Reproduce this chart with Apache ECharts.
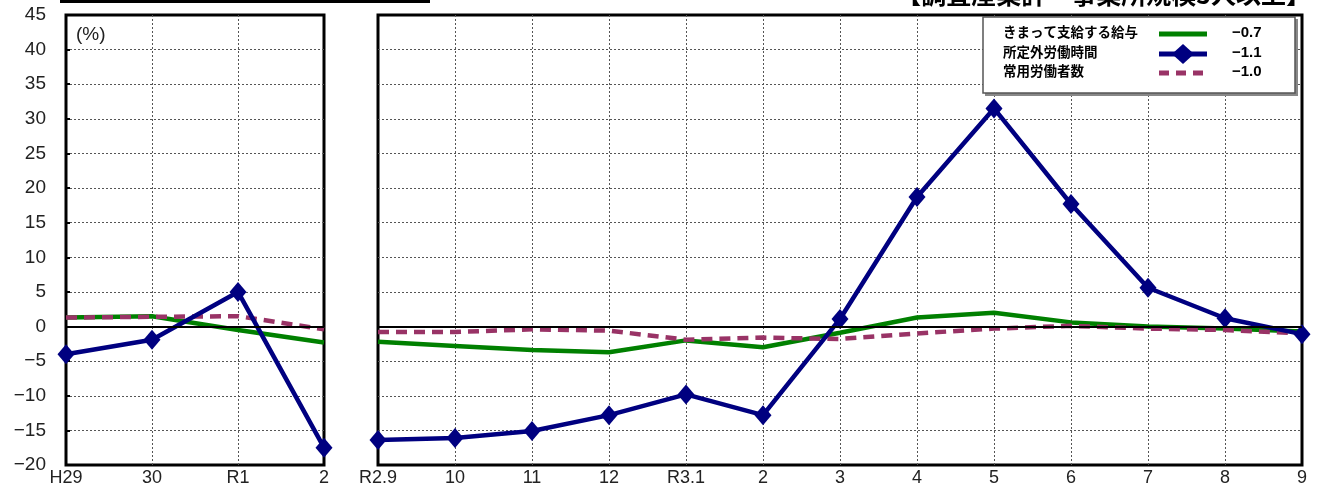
<!DOCTYPE html>
<html><head><meta charset="utf-8">
<script src="https://cdn.jsdelivr.net/npm/echarts@6/dist/echarts.min.js"></script>
<style>html,body{margin:0;padding:0;background:#fff}#c{width:1317px;height:490px}</style>
</head><body><div id="c"></div>
<script>
// ---- data ----
const yearCats = ['H29', '30', 'R1', '2'];
const monthCats = ['R2.9', '10', '11', '12', 'R3.1', '2', '3', '4', '5', '6', '7', '8', '9'];
const seriesNames = ['きまって支給する給与', '所定外労働時間', '常用労働者数'];
const latestValues = ['−0.7', '−1.1', '−1.0'];
const wageYear = [1.3, 1.5, -0.5, -2.3];
const overtimeYear = [-4.0, -1.9, 5.0, -17.5];
const employYear = [1.3, 1.4, 1.5, -0.4];
const wageMonth = [-2.2, -2.8, -3.4, -3.7, -2.0, -3.0, -0.9, 1.3, 2.0, 0.6, 0.0, -0.3, -0.7];
const overtimeMonth = [-16.4, -16.1, -15.1, -12.8, -9.8, -12.8, 1.1, 18.7, 31.5, 17.7, 5.6, 1.2, -1.1];
const employMonth = [-0.8, -0.8, -0.4, -0.6, -1.9, -1.6, -1.8, -1.0, -0.3, 0.1, -0.3, -0.5, -1.0];
const yTicks = { min: -20, max: 45, step: 5 };
const titleText = '【調査産業計・事業所規模5人以上】';
const unitText = '(%)';

// ---- styles ----
const GREEN = '#008000', NAVY = '#000080', MAG = '#993366';
const NUMFONT = 'Liberation Sans';
const JPFONT = 'Noto Sans CJK JP';

const chart = echarts.init(document.getElementById('c'));
const splitY = { show: true, showMinLine: false, showMaxLine: false, lineStyle: { color: '#555', type: [2, 2], width: 1 } };
const splitX = { show: true, showMinLine: false, showMaxLine: false, lineStyle: { color: '#555', type: [2, 2], width: 1 } };
const zeroLine = {
  silent: true, symbol: 'none', label: { show: false },
  lineStyle: { color: '#000', width: 2, type: 'solid' },
  data: [{ yAxis: 0 }], animation: false
};
function mkSeries(idx, name, data, kind) {
  const s = { name, type: 'line', xAxisIndex: idx, yAxisIndex: idx, data, animation: false, z: 3 };
  if (kind === 'wage') {
    s.lineStyle = { color: GREEN, width: 4.5 }; s.showSymbol = false; s.symbol = 'none'; s.itemStyle = { color: GREEN };
    s.markLine = zeroLine; s.z = 2;
  } else if (kind === 'emp') {
    s.lineStyle = { color: MAG, width: 4.5, type: [11, 7] }; s.showSymbol = false; s.symbol = 'none'; s.itemStyle = { color: MAG };
    s.z = 3;
  } else {
    s.lineStyle = { color: NAVY, width: 4.5 }; s.symbol = 'diamond'; s.symbolSize = [17, 20];
    s.itemStyle = { color: NAVY }; s.z = 4;
  }
  return s;
}
const yAxisBase = (idx, showLabel) => ({
  type: 'value', gridIndex: idx, min: yTicks.min, max: yTicks.max, interval: yTicks.step,
  axisLine: { show: false }, axisTick: { show: showLabel, inside: true, length: 4, lineStyle: { color: '#000', width: 2 } },
  splitLine: splitY,
  axisLabel: showLabel ? { show: true, color: '#222', fontFamily: NUMFONT, fontSize: 19, margin: 20,
    formatter: v => String(v).replace('-', '−') } : { show: false }
});
const xAxisBase = (idx, cats) => ({
  type: 'category', gridIndex: idx, data: cats, boundaryGap: false,
  axisLine: { show: false }, axisTick: { show: false }, splitLine: splitX,
  axisLabel: { color: '#222', fontFamily: NUMFONT, fontSize: 18, margin: 4, interval: 0 }
});

const legendX = 1003, legendIcon = 1150, legendVal = 1232, legendY = [34, 54, 73];
const graphic = [
  { type: 'rect', shape: { x: 60, y: -2, width: 370, height: 5 }, style: { fill: '#000' }, z: 10 },
  { type: 'text', right: 6, top: -18, style: { text: titleText, font: 'bold 25px "' + JPFONT + '"', fill: '#000' }, z: 10 },
  { type: 'text', left: 76, top: 25, style: { text: unitText, font: '19px ' + NUMFONT, fill: '#222' }, z: 10 },
  { type: 'rect', shape: { x: 985, y: 19, width: 313, height: 77 }, style: { fill: '#888' }, z: 9 },
  { type: 'rect', shape: { x: 983, y: 17, width: 312, height: 76 }, style: { fill: '#fff', stroke: '#555', lineWidth: 1.5 }, z: 10 }
];
const legendStyles = [
  { stroke: GREEN, lineDash: null }, { stroke: NAVY, lineDash: null }, { stroke: MAG, lineDash: [10, 7] }
];
seriesNames.forEach((n, i) => {
  const y = legendY[i];
  graphic.push({ type: 'text', left: legendX, top: y - 9, style: { text: n, font: 'bold 13.5px "' + JPFONT + '"', fill: '#000' }, z: 11 });
  graphic.push({ type: 'line', shape: { x1: legendIcon + 9, y1: y, x2: legendIcon + 57, y2: y },
    style: { stroke: legendStyles[i].stroke, lineWidth: 5, lineDash: legendStyles[i].lineDash }, z: 11 });
  if (i === 1) graphic.push({ type: 'polygon', shape: { points: [[legendIcon + 33, y - 10], [legendIcon + 44, y], [legendIcon + 33, y + 10], [legendIcon + 22, y]] }, style: { fill: NAVY }, z: 12 });
  graphic.push({ type: 'text', left: legendVal, top: y - 9, style: { text: latestValues[i], font: 'bold 15px ' + NUMFONT, fill: '#000' }, z: 11 });
});

chart.setOption({
  backgroundColor: '#fff',
  animation: false,
  grid: [
    { left: 66, width: 258, top: 15, height: 450, show: true, borderColor: '#000', borderWidth: 3, backgroundColor: 'transparent' },
    { left: 378, width: 924, top: 15, height: 450, show: true, borderColor: '#000', borderWidth: 3, backgroundColor: 'transparent' }
  ],
  xAxis: [xAxisBase(0, yearCats), xAxisBase(1, monthCats)],
  yAxis: [yAxisBase(0, true), yAxisBase(1, false)],
  series: [
    mkSeries(0, seriesNames[0], wageYear, 'wage'),
    mkSeries(0, seriesNames[2], employYear, 'emp'),
    mkSeries(0, seriesNames[1], overtimeYear, 'ot'),
    mkSeries(1, seriesNames[0], wageMonth, 'wage'),
    mkSeries(1, seriesNames[2], employMonth, 'emp'),
    mkSeries(1, seriesNames[1], overtimeMonth, 'ot')
  ],
  graphic
});
</script></body></html>
